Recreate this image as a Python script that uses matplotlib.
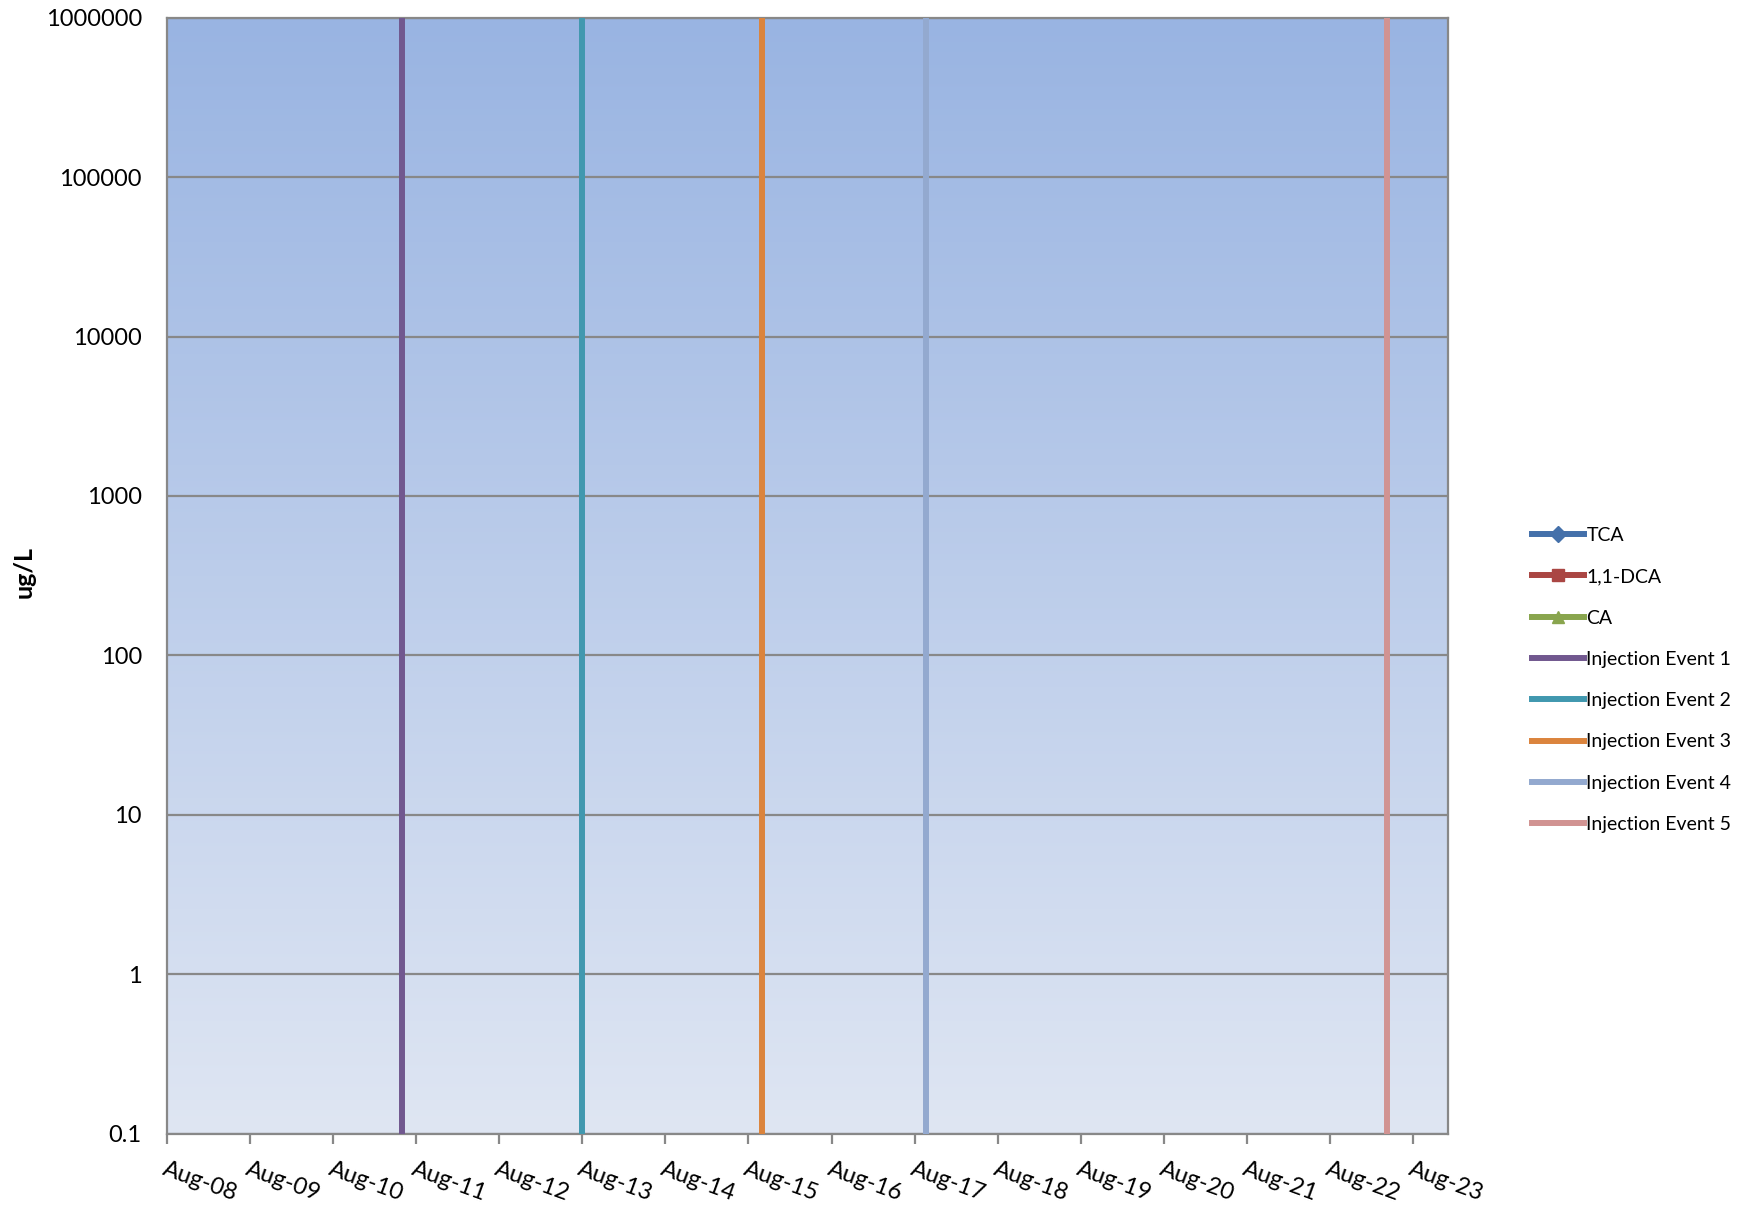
import datetime as dt
import numpy as np
import matplotlib
matplotlib.use("Agg")
import matplotlib.pyplot as plt
import matplotlib.dates as mdates
from matplotlib.lines import Line2D

# Data
tick_years = list(range(2008, 2024))
tick_labels = [f"Aug-{y % 100:02d}" for y in tick_years]
y_ticks = [0.1, 1, 10, 100, 1000, 10000, 100000, 1000000]
y_tick_labels = ["0.1", "1", "10", "100", "1000", "10000", "100000", "1000000"]

# Analyte series (no sampling results plotted)
analyte_names = ["TCA", "1,1-DCA", "CA"]
analyte_dates = [[], [], []]
analyte_values = [[], [], []]

event_names = ["Injection Event 1", "Injection Event 2", "Injection Event 3",
               "Injection Event 4", "Injection Event 5"]
event_dates = [dt.date(2011, 6, 1), dt.date(2013, 8, 1), dt.date(2015, 10, 1),
               dt.date(2017, 9, 20), dt.date(2023, 4, 5)]
event_range = [0.1, 1000000]

x_start = dt.date(2008, 8, 1)
x_end = dt.date(2024, 1, 1)

analyte_colors = ["#4470AA", "#AA4643", "#89A54E"]
analyte_markers = ["D", "s", "^"]
event_colors = ["#71588F", "#4198AF", "#DB843D", "#93A9CF", "#D19392"]

plt.rcParams["font.family"] = ["Lato", "DejaVu Sans"]

fig = plt.figure(figsize=(17.5, 12.1), dpi=100)
ax = fig.add_axes([0.0953, 0.0631, 0.7323, 0.9223])

# Vertical gradient fill of the plot area
grad = np.linspace(0, 1, 256).reshape(-1, 1)
top_c = np.array([0x99, 0xB4, 0xE2]) / 255
bot_c = np.array([0xDF, 0xE6, 0xF3]) / 255
img = top_c[None, None, :] * (1 - grad[:, :, None]) + bot_c[None, None, :] * grad[:, :, None]
ax.imshow(img, extent=[0, 1, 0, 1], transform=ax.transAxes, aspect="auto",
          zorder=0, interpolation="bilinear")

ax.set_yscale("log")
ax.set_ylim(0.1, 1000000)
ax.set_xlim(mdates.date2num(x_start), mdates.date2num(x_end))

for name, xs, ys, c, m in zip(analyte_names, analyte_dates, analyte_values,
                              analyte_colors, analyte_markers):
    ax.plot([mdates.date2num(d) for d in xs], ys, color=c, marker=m, lw=4.3,
            zorder=3, label=name)

for name, d, c in zip(event_names, event_dates, event_colors):
    xd = mdates.date2num(d)
    ax.plot([xd, xd], event_range, color=c, lw=4.3, zorder=3, label=name,
            solid_capstyle="butt")

ax.set_yticks(y_ticks)
ax.set_yticklabels(y_tick_labels)
ax.yaxis.set_minor_locator(matplotlib.ticker.NullLocator())
ax.tick_params(axis="y", length=0, labelsize=17, pad=18)
ax.grid(axis="y", color="#888888", lw=1.6, zorder=1)
ax.set_axisbelow(False)

xt = [mdates.date2num(dt.date(y, 8, 1)) for y in tick_years]
ax.set_xticks(xt)
ax.set_xticklabels(tick_labels, rotation=-20, ha="left", va="top",
                   rotation_mode="anchor", fontsize=17)
ax.tick_params(axis="x", direction="out", length=7, width=1.6, color="#888888",
               pad=11)

for s in ax.spines.values():
    s.set_color("#888888")
    s.set_linewidth(1.6)
    s.set_zorder(2)

fig.text(0.014, 0.527, "ug/L", rotation=90, fontsize=18, fontweight="bold",
         ha="center", va="center")

handles = []
for name, c, m in zip(analyte_names, analyte_colors, analyte_markers):
    handles.append(Line2D([], [], color=c, lw=4.3, marker=m, markersize=8, label=name))
for name, c in zip(event_names, event_colors):
    handles.append(Line2D([], [], color=c, lw=4.3, label=name))
leg = fig.legend(handles=handles, loc="center left", bbox_to_anchor=(0.871, 0.438),
                 frameon=False, fontsize=14, handlelength=2.65, handletextpad=0.15,
                 labelspacing=1.25, borderaxespad=0)

fig.savefig("out.png", dpi=100)
